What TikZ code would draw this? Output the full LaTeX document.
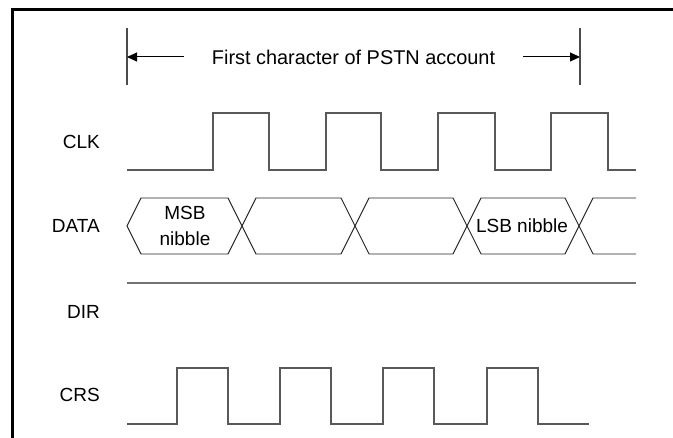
\documentclass[tikz,border=0pt]{standalone}
\usepackage{fontspec}
\setmainfont{Liberation Sans}
\usetikzlibrary{arrows.meta}
\begin{document}
\begin{tikzpicture}[x=1pt,y=-1pt,
  lbl/.style={anchor=east,inner sep=0pt,font=\fontsize{19}{23}\selectfont},
  txt/.style={inner sep=0pt,font=\fontsize{19}{26}\selectfont,align=center},
  wave/.style={draw=black!65,line width=1.3pt},
  dataw/.style={draw=black!85,line width=0.9pt},
  frame/.style={line width=3pt},
  brk/.style={draw=black!70,line width=1.3pt},
  arr/.style={draw=black,line width=1pt,-{Triangle[length=10pt,width=9pt]}}]
\useasboundingbox (0,0) rectangle (673,438);
\draw[frame] (12,438) -- (12,10) -- (675,10);
% bracket
\coordinate (bl1) at (127,28); \coordinate (bl2) at (127,85);
\coordinate (br1) at (580,28); \coordinate (br2) at (580,85);
\draw[brk] (bl1) -- (bl2);
\draw[brk] (br1) -- (br2);
\node[txt,font=\fontsize{19.9}{24}\selectfont] (title) at (353.5,57) {First character of PSTN account};
\coordinate (la) at (127,57);
\coordinate (ra) at (580,57);
\draw[arr] ([xshift=-28pt]title.west) -- (la);
\draw[arr] ([xshift=28pt]title.east) -- (ra);
% labels
\node[lbl] (clk) at (100,142) {CLK};
\node[lbl] (data) at (100,226) {DATA};
\node[lbl] (dir) at (100,312) {DIR};
\node[lbl] (crs) at (100,395) {CRS};
% CLK
\draw[wave] (127,170) -| (213,113) -| (269,170) -| (326,113) -| (381,170) -| (438,113) -| (495,170) -| (551,113) -| (608,170) -- (636,170);
% DATA
\foreach \a/\b in {127/242,242/355,355/467,467/579}{
  \draw[dataw] (\a,226) -- (\a+14,198) -- (\b-14,198) -- (\b,226) -- (\b-14,254) -- (\a+14,254) -- cycle;
}
\draw[dataw] (636,198) -- (593,198) -- (579,226) -- (593,254) -- (636,254);
\node[txt] (msb) at (185,226) {MSB\\nibble};
\node[txt] (lsb) at (522,226) {LSB nibble};
% DIR
\draw[draw=black!55,line width=2pt] (127,283) -- (636,283);
% CRS
\draw[wave] (127,424) -| (177,368) -| (228,424) -| (280,368) -| (331,424) -| (383,368) -| (434,424) -| (487,368) -| (538,424) -- (589,424);
\end{tikzpicture}
\end{document}
